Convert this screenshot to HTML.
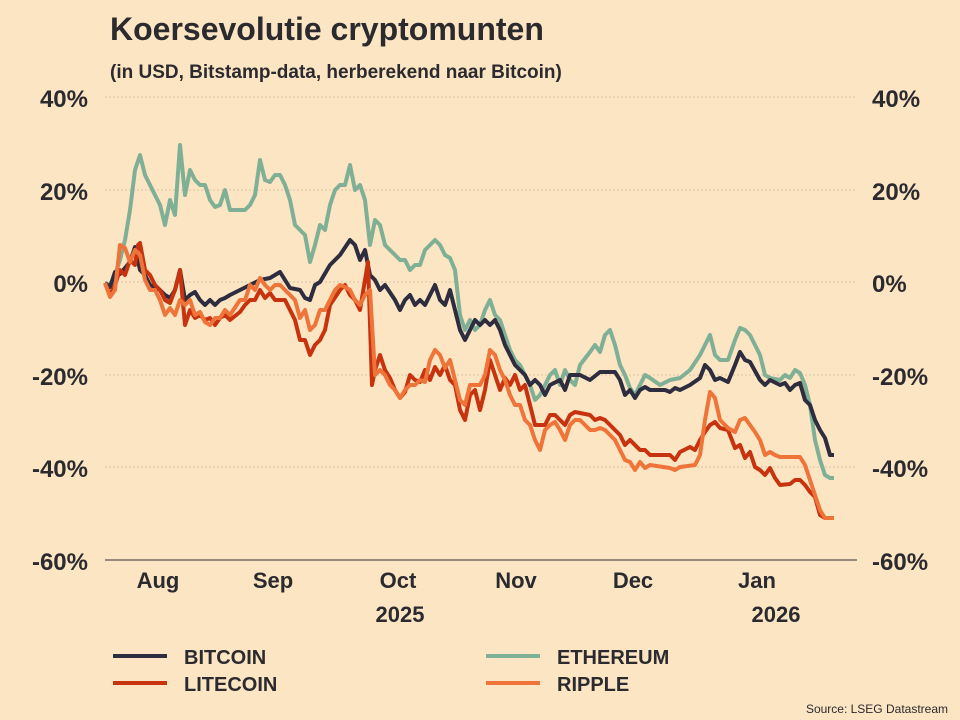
<!DOCTYPE html>
<html><head><meta charset="utf-8"><style>
body{margin:0;background:#fce5c3;}
svg{display:block;font-family:"Liberation Sans","DejaVu Sans",sans-serif;}
</style></head><body>
<svg width="960" height="720" viewBox="0 0 960 720">
<rect width="960" height="720" fill="#fce5c3"/>
<text x="110" y="40" font-size="32" font-weight="bold" fill="#2b2a2e">Koersevolutie cryptomunten</text>
<text x="110" y="78" font-size="19" font-weight="bold" fill="#2b2a2e">(in USD, Bitstamp-data, herberekend naar Bitcoin)</text>
<g stroke="#d8c4a4" stroke-width="1" stroke-dasharray="2,2">
<line x1="105" y1="97" x2="857" y2="97"/><line x1="105" y1="190" x2="857" y2="190"/><line x1="105" y1="282" x2="857" y2="282"/><line x1="105" y1="375" x2="857" y2="375"/><line x1="105" y1="467" x2="857" y2="467"/>
</g>
<line x1="105" y1="560" x2="857" y2="560" stroke="#5a5450" stroke-width="1.2"/>
<g font-size="24" font-weight="bold" fill="#2b2a2e" text-anchor="end">
<text x="88" y="107">40%</text><text x="88" y="200">20%</text><text x="88" y="292">0%</text><text x="88" y="385">-20%</text><text x="88" y="477">-40%</text><text x="88" y="570">-60%</text>
</g>
<g font-size="24" font-weight="bold" fill="#2b2a2e" text-anchor="start">
<text x="872" y="107">40%</text><text x="872" y="200">20%</text><text x="872" y="292">0%</text><text x="872" y="385">-20%</text><text x="872" y="477">-40%</text><text x="872" y="570">-60%</text>
</g>
<g font-size="22" font-weight="bold" fill="#2b2a2e" text-anchor="middle">
<text x="158" y="588">Aug</text><text x="273" y="588">Sep</text><text x="398" y="588">Oct</text><text x="400" y="622">2025</text><text x="516" y="588">Nov</text><text x="633" y="588">Dec</text><text x="757" y="588">Jan</text><text x="776" y="622">2026</text>
</g>
<g fill="none" stroke-width="4" stroke-linejoin="round">
<polyline stroke="#7fb096" points="105,283 110,285 115,275 120,260 125,240 130,210 135,170 140,155 145,175 150,185 155,195 160,205 165,225 170,200 175,215 180,145 185,195 190,170 195,180 200,185 205,185 210,200 215,207 220,205 225,190 230,210 235,210 245,210 250,205 255,195 260,160 265,180 270,182 275,175 280,175 285,185 290,200 295,225 300,230 305,235 310,262 315,245 320,225 325,230 330,205 335,190 340,185 345,185 350,165 355,190 360,185 365,200 370,245 375,220 380,225 385,245 395,255 400,260 405,260 410,270 415,265 420,265 425,250 430,245 435,240 440,245 445,255 450,258 455,270 460,315 465,330 470,320 475,330 480,325 485,310 490,300 495,315 500,320 505,335 510,350 515,360 520,365 525,375 530,385 535,400 540,395 545,385 550,375 555,370 560,385 565,370 570,380 575,385 580,365 590,352 595,345 600,352 605,335 610,330 615,345 620,365 625,375 630,388 635,395 640,385 645,375 650,378 660,385 670,380 680,378 690,370 700,355 705,345 710,335 715,355 720,360 728,360 735,340 740,328 745,330 750,335 760,355 765,375 770,378 780,380 785,375 790,378 795,370 800,373 805,385 810,405 815,440 820,460 825,475 830,478 834,478"/>
<polyline stroke="#2e2d3f" points="105,283 110,287 115,272 120,274 125,268 130,262 135,247 140,270 145,275 150,285 155,287 160,290 165,295 170,298 175,290 180,270 185,300 190,295 195,292 200,300 205,305 210,300 215,305 220,300 225,298 230,295 240,290 250,285 260,280 270,278 280,272 285,280 290,288 300,290 305,298 310,300 315,285 320,282 330,265 340,255 350,240 355,245 360,260 365,250 370,275 375,280 380,290 385,285 395,300 400,310 405,300 410,295 415,305 420,300 425,305 430,295 435,285 440,300 445,305 450,290 455,310 460,330 465,340 470,330 475,320 480,325 485,320 490,325 495,320 500,330 505,345 510,355 515,365 520,370 525,375 530,385 535,380 540,385 545,395 550,385 560,380 565,390 570,375 580,375 590,380 600,372 615,372 620,380 625,395 630,390 635,398 640,390 645,387 650,390 665,390 670,392 675,388 680,390 690,385 700,378 705,365 710,370 715,380 720,378 728,382 735,365 740,352 745,360 750,362 760,380 765,385 770,380 780,385 785,383 790,390 795,385 800,383 805,400 810,405 815,420 820,430 825,438 830,455 834,455"/>
<polyline stroke="#c8330f" points="105,283 110,295 115,285 120,270 125,275 130,260 135,265 138,245 140,243 145,270 150,275 155,285 160,290 165,300 170,303 175,290 180,270 185,325 190,310 195,318 200,315 205,320 210,318 215,325 220,318 225,315 230,320 240,312 245,305 250,300 255,300 260,290 265,298 270,293 275,300 285,300 290,310 295,320 300,340 305,340 310,355 315,345 320,340 325,330 330,305 340,290 345,285 350,295 355,300 360,310 365,280 368,262 372,385 375,370 380,355 385,370 390,378 395,390 400,398 405,392 410,375 415,380 420,382 425,370 430,380 435,367 440,375 445,365 450,380 455,385 460,410 465,420 470,395 475,390 480,410 485,390 490,360 495,375 500,390 505,378 510,385 515,375 520,390 525,385 530,405 535,425 545,425 550,415 555,415 560,420 565,425 570,415 575,412 590,415 595,420 600,418 605,420 610,425 615,430 620,435 625,445 630,440 640,450 645,450 650,455 670,455 675,460 680,452 690,447 695,450 700,440 705,432 710,425 715,422 720,428 728,430 735,448 740,445 745,458 750,452 755,467 760,470 765,475 770,468 775,478 780,485 790,484 795,480 800,480 805,485 810,492 815,497 820,515 825,518 834,518"/>
<polyline stroke="#ef7439" points="105,283 110,297 115,290 120,245 125,248 130,262 135,250 140,255 145,280 150,290 155,290 160,300 165,315 170,308 175,315 180,300 185,305 190,300 195,315 200,312 205,322 210,325 215,318 220,318 225,310 230,315 240,300 245,300 250,285 255,290 260,278 265,285 270,290 275,285 280,285 285,290 290,295 295,300 300,318 305,310 310,330 315,325 320,310 325,310 330,300 335,290 340,285 345,287 350,290 355,300 360,305 365,295 370,290 375,375 380,370 385,375 390,385 395,390 400,398 405,390 410,385 415,385 420,380 425,382 430,360 435,350 440,355 445,368 450,360 455,380 460,400 465,405 470,385 480,385 485,375 490,350 495,355 500,370 505,380 510,395 515,405 520,405 525,420 530,425 535,440 540,450 545,430 550,425 555,422 560,430 565,440 570,425 575,420 580,420 590,430 595,430 600,428 605,430 610,435 615,440 620,450 625,460 630,462 635,470 640,462 645,468 650,465 670,468 675,470 680,467 695,465 700,455 705,420 710,392 715,398 720,420 728,428 735,432 740,420 745,418 750,425 755,432 760,440 765,455 770,452 775,455 780,457 800,457 805,465 810,480 815,495 820,510 825,518 834,518"/>
</g>
<g stroke-width="4">
<line x1="113" y1="656" x2="167" y2="656" stroke="#2e2d3f"/>
<line x1="113" y1="683" x2="167" y2="683" stroke="#c8330f"/>
<line x1="486" y1="656" x2="540" y2="656" stroke="#7fb096"/>
<line x1="486" y1="683" x2="540" y2="683" stroke="#ef7439"/>
</g>
<g font-size="20" font-weight="bold" fill="#2b2a2e">
<text x="184" y="664">BITCOIN</text><text x="184" y="691">LITECOIN</text><text x="557" y="664">ETHEREUM</text><text x="557" y="691">RIPPLE</text>
</g>
<text x="948" y="713" font-size="12" fill="#2b2a2e" text-anchor="end">Source: LSEG Datastream</text>
</svg>
</body></html>
